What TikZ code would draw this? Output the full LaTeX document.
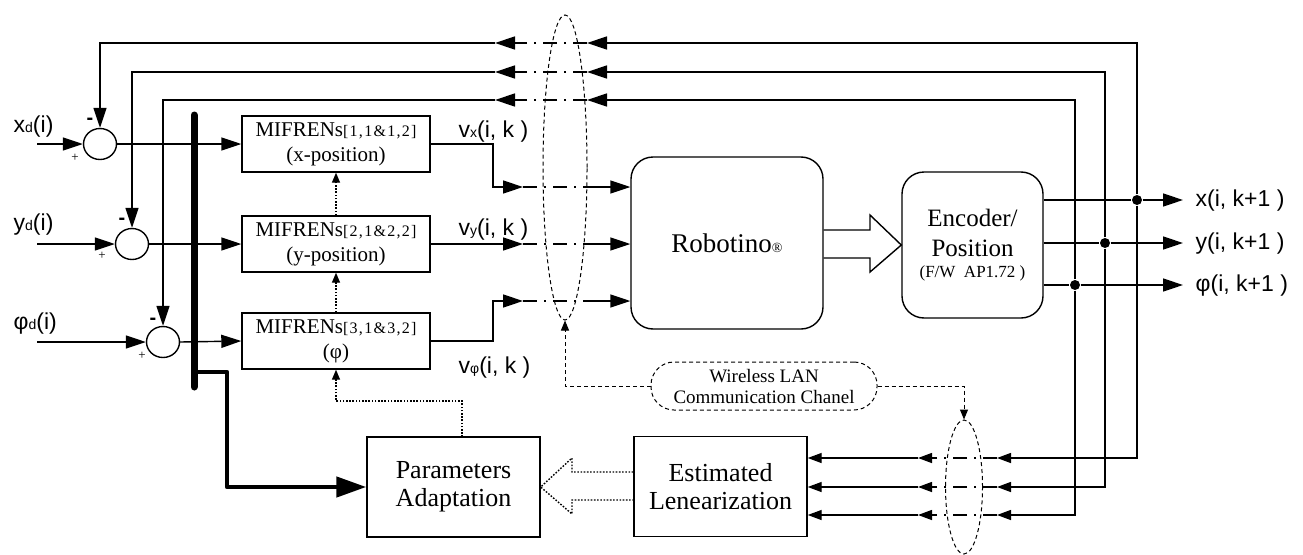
\documentclass[tikz,border=0pt]{standalone}
\usepackage{fontspec}
\setmainfont{Liberation Serif}
\setsansfont{Liberation Sans}
\usetikzlibrary{arrows.meta,shapes.geometric}
\newcommand\mysubtxt[1]{{\fontsize{16}{16}\selectfont\addfontfeature{LetterSpace=8}#1}}
\newcommand\mysmall[1]{{\fontsize{14}{14}\selectfont #1}}
\begin{document}
\begin{tikzpicture}[x=1pt,y=-1pt,
  line width=1.4pt,
  tri/.style={-{Triangle[length=20pt,width=13pt]}},
  trism/.style={-{Triangle[length=14pt,width=10pt]}},
  tritiny/.style={-{Triangle[length=10pt,width=8pt]}},
  dd/.style={dash pattern=on 14pt off 7pt on 2pt off 7pt},
  dotl/.style={dash pattern=on 1.6pt off 1.6pt},
  dashl/.style={dash pattern=on 4pt off 3pt, line width=1pt},
  box/.style={draw,line width=1.4pt,rectangle,inner sep=0pt,align=center},
  mif/.style={box,minimum width=188pt,minimum height=56pt,font=\fontsize{21}{25}\selectfont},
  bigbox/.style={box,minimum width=173pt,minimum height=100pt,font=\fontsize{26}{28}\selectfont},
  sumn/.style={draw,ellipse,minimum width=33pt,minimum height=31pt,inner sep=0pt,line width=1.4pt},
  lbl/.style={font=\sffamily\fontsize{23}{23}\selectfont,anchor=west,inner sep=0pt},
  pm/.style={font=\fontsize{13}{13}\selectfont,inner sep=0pt},
  mn/.style={font=\sffamily\bfseries\fontsize{20}{20}\selectfont,inner sep=0pt},
  dot/.style={circle,fill=black,minimum size=10pt,inner sep=0pt},
  lens/.style={draw,ellipse,dashl,inner sep=0pt}
]
\useasboundingbox (0,0) rectangle (1303,554);

% ---------- lenses (wireless) ----------
\node[lens,minimum width=44pt,minimum height=305pt] (e1) at (565,167.5) {};
\node[lens,minimum width=37pt,minimum height=134pt] (e2) at (964,487) {};

% ---------- summing junctions ----------
\node[sumn] (s1) at (100,144) {};
\node[sumn] (s2) at (132,244) {};
\node[sumn] (s3) at (163,342) {};
\coordinate (in1) at (37,144);
\coordinate (in2) at (37,244);
\coordinate (in3) at (37,342);

\node[lbl] (lx) at (13,127) {x\mysmall{d}(i)};
\node[lbl] (ly) at (13,225) {y\mysmall{d}(i)};
\node[lbl] (lp) at (13,324) {φ\mysmall{d}(i)};

\node[mn] (m1s) at (90,121) {-};
\node[mn] (m2s) at (122,221) {-};
\node[mn] (m3s) at (153,321) {-};
\node[pm] (p1s) at (75,158) {+};
\node[pm] (p2s) at (102,256) {+};
\node[pm] (p3s) at (142,356) {+};

% ---------- MIFREN blocks ----------
\node[mif] (m1) at (336,144) {MIFRENs\mysubtxt{[1,1\&1,2]}\\(x-position)};
\node[mif] (m2) at (336,244) {MIFRENs\mysubtxt{[2,1\&2,2]}\\(y-position)};
\node[mif] (m3) at (336,341) {MIFRENs\mysubtxt{[3,1\&3,2]}\\(φ)};

% ---------- Robotino & Encoder ----------
\node[box,rounded corners=22pt,minimum width=192pt,minimum height=172pt,
      font=\fontsize{27}{27}\selectfont] (rob) at (727,243) {Robotino{\fontsize{14}{14}\selectfont ®}};
\node[box,rounded corners=22pt,minimum width=141pt,minimum height=146pt,
      font=\fontsize{25}{30}\selectfont] (enc) at (972.5,245)
  {Encoder/\\Position\\[-9pt]{\fontsize{17}{20}\selectfont (F/W\ \ AP1.72 )}};

% ---------- lower blocks ----------
\node[bigbox] (par) at (453.5,487) {Parameters\\Adaptation};
\node[bigbox] (est) at (720.5,486.5) {Estimated\\Lenearization};
\node[draw,dashl,rounded corners=23pt,minimum width=226pt,minimum height=48pt,inner sep=0pt,
      align=center,font=\fontsize{19}{21}\selectfont] (wl) at (764,386) {Wireless LAN\\Communication Chanel};

% ---------- output nodes ----------
\node[dot] (d1) at (1137,200) {};
\node[dot] (d2) at (1105,243) {};
\node[dot] (d3) at (1075,285) {};
\coordinate (o1) at (1183,200);
\coordinate (o2) at (1183,243);
\coordinate (o3) at (1183,285);
\node[lbl] (lo1) at (1195,201) {x(i, k+1 )};
\node[lbl] (lo2) at (1195,244) {y(i, k+1 )};
\node[lbl] (lo3) at (1195,286) {φ(i, k+1 )};

\draw (enc.east |- d1) -- (d1);
\draw (enc.east |- d2) -- (d2);
\draw (enc.east |- d3) -- (d3);
\draw[tri] (d1) -- (o1);
\draw[tri] (d2) -- (o2);
\draw[tri] (d3) -- (o3);

% ---------- inputs to summers ----------
\draw[tri] (in1) -- (s1.west);
\draw[tri] (in2) -- (s2.west);
\draw[tri] (in3) -- (s3.west);
\draw[tri] (s1.east) -- (m1.west);
\draw[tri] (s2.east) -- (m2.west);
\draw[tri] (s3.east) -- (m3.west);

% ---------- top feedback (through wireless) ----------
\coordinate (ta1) at (587,43);  \coordinate (tb1) at (525,43);  \coordinate (tc1) at (495,43);
\coordinate (ta2) at (587,72);  \coordinate (tb2) at (525,72);  \coordinate (tc2) at (495,72);
\coordinate (ta3) at (587,100); \coordinate (tb3) at (525,100); \coordinate (tc3) at (495,100);
\draw[tri] (d1) |- (ta1);
\draw[tri] (d2) |- (ta2);
\draw[tri] (d3) |- (ta3);
\draw[dd] (ta1) -- (tb1);
\draw[dd] (ta2) -- (tb2);
\draw[dd] (ta3) -- (tb3);
\draw[tri] (tb1) -- (tc1);
\draw[tri] (tb2) -- (tc2);
\draw[tri] (tb3) -- (tc3);
\draw[tri] (tc1) -| (s1.north);
\draw[tri] (tc2) -| (s2.north);
\draw[tri] (tc3) -| (s3.north);

% ---------- MIFREN outputs to Robotino ----------
\coordinate (va1) at (523,187); \coordinate (vb1) at (587,187);
\coordinate (va2) at (523,244); \coordinate (vb2) at (587,244);
\coordinate (va3) at (523,301); \coordinate (vb3) at (587,301);
\draw[tri] (m1.east) -- (493,144) |- (va1);
\draw[tri] (m2.east) -- (va2);
\draw[tri] (m3.east) -- (493,341) |- (va3);
\draw[dd] (va1) -- (vb1);
\draw[dd] (va2) -- (vb2);
\draw[dd] (va3) -- (vb3);
\draw[tri] (vb1) -- (rob.west |- vb1);
\draw[tri] (vb2) -- (rob.west |- vb2);
\draw[tri] (vb3) -- (rob.west |- vb3);

\node[lbl] (lv1) at (458,132) {v\mysmall{x}(i, k )};
\node[lbl] (lv2) at (458,230) {v\mysmall{y}(i, k )};
\node[lbl] (lv3) at (458,368) {v\mysmall{φ}(i, k )};

% ---------- hollow arrow Robotino -> Encoder ----------
\draw[line width=1.4pt,line join=miter] (rob.east |- 0,230) -- (870,230) -- (870,215) -- (enc.west) -- (870,272) -- (870,258) -- (rob.east |- 0,258);

% ---------- bottom feedback (through wireless) ----------
\coordinate (ba1) at (997,458); \coordinate (bb1) at (932,458); \coordinate (bc1) at (918,458);
\coordinate (ba2) at (997,487); \coordinate (bb2) at (932,487); \coordinate (bc2) at (918,487);
\coordinate (ba3) at (997,515); \coordinate (bb3) at (932,515); \coordinate (bc3) at (918,515);
\draw[trism] (d1) |- (ba1);
\draw[trism] (d2) |- (ba2);
\draw[trism] (d3) |- (ba3);
\draw[dd] (ba1) -- (bb1);
\draw[dd] (ba2) -- (bb2);
\draw[dd] (ba3) -- (bb3);
\draw[trism] (bb1) -- (bc1);
\draw[trism] (bb2) -- (bc2);
\draw[trism] (bb3) -- (bc3);
\draw[trism] (bc1) -- (est.east |- bc1);
\draw[trism] (bc2) -- (est.east |- bc2);
\draw[trism] (bc3) -- (est.east |- bc3);

% ---------- wireless label connectors ----------
\draw[dashl,tritiny] (wl.west) -| (e1.south);
\draw[dashl,tritiny] (wl.east) -| (e2.north);

% ---------- dotted adaptation paths ----------
\draw[dotl,tritiny] (m2.north) -- (m1.south);
\draw[dotl,tritiny] (m3.north) -- (m2.south);
\coordinate (pt) at (462,437);
\draw[dotl,tritiny] (pt) -- (462,401) -| (m3.south);
\draw[dotl] (est.west |- 0,472) -- (572,472) -- (572,458) -- (par.east) -- (572,514) -- (572,500) -- (est.west |- 0,500);

% ---------- thick bus ----------
\coordinate (bt) at (194,115);
\coordinate (bb) at (194,387);
\coordinate (br) at (194,372);
\draw[line width=7pt,line cap=round] (bt) -- (bb);
\draw[line width=4.5pt,line join=round,-{Triangle[length=30pt,width=20pt]}] (br) -- (227,372) -- (227,487) -- (par.west);

\end{tikzpicture}
\end{document}
